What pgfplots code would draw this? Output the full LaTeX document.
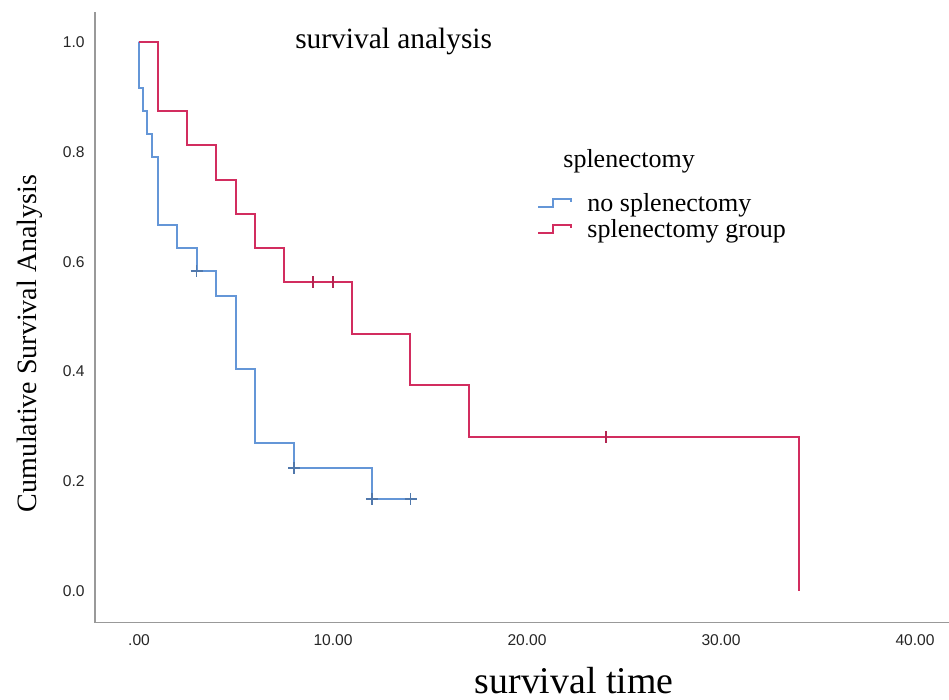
\documentclass[border=0pt]{standalone}
\usepackage{fontspec}
\setmainfont{Liberation Serif}
\newfontfamily\tickfont{Liberation Sans}
\usepackage{pgfplots}
\pgfplotsset{compat=1.18}
\definecolor{kmblue}{RGB}{100,150,215}
\definecolor{kmred}{RGB}{210,45,95}
\begin{document}
\begin{tikzpicture}
\useasboundingbox (-47.5pt,-38.65pt) rectangle (427pt,311.35pt);
\begin{axis}[
  at={(0,0)}, anchor=south west,
  width=427pt, height=305.35pt, scale only axis,
  xmin=-2.27, xmax=41.75, ymin=-0.0578, ymax=1.0556,
  axis x line=bottom, axis y line=left,
  axis line style={-, draw=black!40, line width=0.8pt},
  xtick={0,10,20,30,40}, xticklabels={.00,10.00,20.00,30.00,40.00},
  ytick={0,0.2,0.4,0.6,0.8,1.0}, yticklabels={0.0,0.2,0.4,0.6,0.8,1.0},
  major tick length=0pt,
  tick label style={font=\tickfont\fontsize{7.8}{8}\selectfont, text=black!85},
  xticklabel style={inner sep=0pt, anchor=north, yshift=-6pt},
  yticklabel style={inner sep=0pt, anchor=east, xshift=-5pt},
  clip=false,
  xlabel={survival time},
  xlabel style={font=\fontsize{18.9}{20}\selectfont, at={(axis description cs:0.561,-0.1156)}, anchor=base, inner sep=0pt},
  ylabel={Cumulative Survival Analysis},
  ylabel style={font=\fontsize{14}{15}\selectfont, at={(axis description cs:-0.069,0.457)}, anchor=base, rotate=0, inner sep=0pt},
  legend style={draw=none, fill=none, inner sep=0pt, at={(axis description cs:0.5176,0.7053)}, anchor=north west,
    font=\fontsize{13}{13}\selectfont, column sep=7.5pt, row sep=0pt,
    nodes={inner sep=0pt, text height=9.5pt, text depth=3.5pt}},
  legend cell align=left,
  legend image code/.code={\draw[#1] (0pt,-1pt) -- (7.5pt,-1pt) -- (7.5pt,3pt) -- (16.5pt,3pt) -- (16.5pt,1.5pt);},
]
% no splenectomy
\addplot[const plot, kmblue, line width=1pt] coordinates {
 (0,1) (0.02,0.917) (0.22,0.875) (0.43,0.833) (0.65,0.792) (0.96,0.667)
 (1.97,0.625) (2.97,0.583) (3.97,0.538) (5,0.404) (6,0.269) (8,0.224)
 (12,0.168) (14,0.168)};
\addlegendentry{no splenectomy}
% splenectomy group
\addplot[const plot, kmred, line width=1pt] coordinates {
 (0,1) (0.96,0.875) (2.49,0.8125) (3.97,0.75) (4.98,0.6875) (5.98,0.625)
 (7.47,0.5625) (11,0.469) (13.97,0.375) (17.03,0.281) (34.04,0)};
\addlegendentry{splenectomy group}
% censored
\addplot[forget plot, only marks, mark=+, mark size=3pt, color=kmblue!80!black, mark options={line width=0.75pt}] coordinates {
 (2.97,0.583) (8,0.224) (12,0.168) (14,0.168)};
\addplot[forget plot, only marks, mark=|, mark size=3pt, color=kmred!85!black, mark options={line width=1pt}] coordinates {
 (8.98,0.5625) (9.98,0.5625) (24.06,0.281)};
\node[anchor=base, inner sep=0pt, font=\fontsize{14.7}{16}\selectfont] at (axis description cs:0.3497,0.941) {survival analysis};
\node[anchor=base west, inner sep=0pt, font=\fontsize{13}{13}\selectfont] at (axis description cs:0.548,0.7446) {splenectomy};
\end{axis}
\end{tikzpicture}
\end{document}
